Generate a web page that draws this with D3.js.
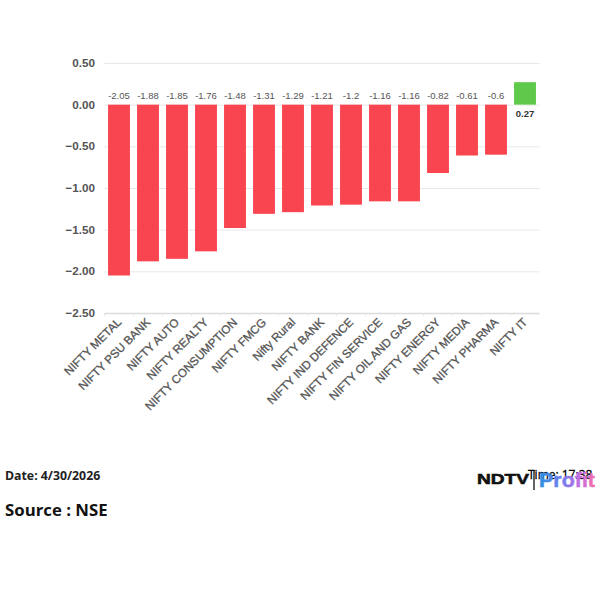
<!DOCTYPE html>
<html>
<head>
<meta charset="utf-8">
<script src="https://cdn.jsdelivr.net/npm/d3@7"></script>
<style>
html, body { margin: 0; padding: 0; background: #fff; }
svg { display: block; }
</style>
</head>
<body>
<svg id="chart"></svg>
<script>
var categories = ["NIFTY METAL", "NIFTY PSU BANK", "NIFTY AUTO", "NIFTY REALTY", "NIFTY CONSUMPTION",
    "NIFTY FMCG", "Nifty Rural", "NIFTY BANK", "NIFTY IND DEFENCE", "NIFTY FIN SERVICE",
    "NIFTY OIL AND GAS", "NIFTY ENERGY", "NIFTY MEDIA", "NIFTY PHARMA", "NIFTY IT"];
var values = [-2.05, -1.88, -1.85, -1.76, -1.48, -1.31, -1.29, -1.21, -1.2, -1.16, -1.16, -0.82, -0.61, -0.6, 0.27];
var yTicks = [0.5, 0, -0.5, -1, -1.5, -2, -2.5];

var width = 600, height = 600;
var plotLeft = 104.5, plotRight = 539.5, plotTop = 63, plotBottom = 313;

var svg = d3.select("#chart").attr("width", width).attr("height", height);

var x = d3.scaleBand().domain(categories).range([plotLeft, plotRight]).paddingInner(0.245).paddingOuter(0.1225);
var y = d3.scaleLinear().domain([0.5, -2.5]).range([plotTop, plotBottom]);

// gridlines
svg.append("g").selectAll("line").data(yTicks).enter().append("line")
    .attr("x1", plotLeft).attr("x2", plotRight)
    .attr("y1", function(d) { return y(d) + 0.5; })
    .attr("y2", function(d) { return y(d) + 0.5; })
    .attr("stroke", function(d) { return d === -2.5 ? "#dcdcdc" : "#e8e8e8"; })
    .attr("stroke-width", function(d) { return d === -2.5 ? 1.5 : 1; });

// x axis tick marks
var tickStep = x.step();
svg.append("g").selectAll("line").data(categories).enter().append("line")
    .attr("x1", function(d) { return x(d) + x.bandwidth() / 2 - tickStep / 2; })
    .attr("x2", function(d) { return x(d) + x.bandwidth() / 2 - tickStep / 2; })
    .attr("y1", plotBottom).attr("y2", plotBottom + 3)
    .attr("stroke", "#e6e6e6");

// y labels
svg.append("g").selectAll("text").data(yTicks).enter().append("text")
    .attr("x", 95).attr("y", function(d) { return y(d) + 4; })
    .attr("text-anchor", "end")
    .style("font", "bold 11.7px 'Liberation Sans', Arial, sans-serif")
    .attr("fill", "#555")
    .text(function(d) { return d3.format(".2f")(d); });

// bars
svg.append("g").selectAll("rect").data(values).enter().append("rect")
    .attr("x", function(d, i) { return x(categories[i]); })
    .attr("y", function(d) { return d < 0 ? y(0) : y(d); })
    .attr("width", x.bandwidth())
    .attr("height", function(d) { return Math.abs(y(d) - y(0)); })
    .attr("fill", function(d) { return d < 0 ? "#f9454f" : "#5ec94a"; });

// value labels
svg.append("g").selectAll("text").data(values).enter().append("text")
    .attr("x", function(d, i) { return x(categories[i]) + x.bandwidth() / 2; })
    .attr("y", function(d) { return d < 0 ? y(0) - 6 : y(0) + 12; })
    .attr("text-anchor", "middle")
    .style("font", function(d) { return (d < 0 ? "normal" : "bold") + " 9.5px 'Liberation Sans', Arial, sans-serif"; })
    .attr("fill", function(d) { return d < 0 ? "#555" : "#333"; })
    .text(function(d) { return d; });

// category labels
svg.append("g").selectAll("text").data(categories).enter().append("text")
    .attr("transform", function(d) {
        return "translate(" + (x(d) + x.bandwidth() / 2 + 3) + "," + (plotBottom + 10) + ") rotate(-45)";
    })
    .attr("text-anchor", "end")
    .style("font", "11.7px 'Liberation Sans', Arial, sans-serif")
    .attr("fill", "#555").attr("stroke", "#555").attr("stroke-width", 0.3)
    .text(function(d) { return d; });

// footer
svg.append("text").attr("x", 5).attr("y", 480)
    .style("font", "bold 12.3px 'Open Sans', sans-serif").attr("fill", "#222").text("Date: 4/30/2026");
svg.append("text").attr("x", 5).attr("y", 516)
    .style("font", "bold 16.8px 'Open Sans', sans-serif").attr("fill", "#111").text("Source : NSE");
svg.append("text").attr("x", 528).attr("y", 479)
    .style("font", "12px 'Open Sans', sans-serif").attr("fill", "#000").attr("stroke", "#000").attr("stroke-width", 0.3).text("Time: 17:38");

// logo
svg.append("text").attr("x", 477).attr("y", 484)
    .style("font", "bold 15.5px 'Liberation Sans', Arial, sans-serif").attr("textLength", 52).attr("lengthAdjust", "spacingAndGlyphs")
    .attr("fill", "#111").attr("stroke", "#111").attr("stroke-width", 0.6).text("NDTV");
svg.append("line").attr("x1", 534).attr("x2", 534).attr("y1", 470).attr("y2", 490).attr("stroke", "#111").attr("stroke-width", 1.3);

var logoGrad = svg.append("defs").append("linearGradient").attr("id", "logoGrad");
logoGrad.selectAll("stop").data([["0%", "#2f8fe0"], ["45%", "#7a7cf0"], ["75%", "#c86ee0"], ["100%", "#f56fa8"]]).enter().append("stop")
    .attr("offset", function(d) { return d[0]; })
    .attr("stop-color", function(d) { return d[1]; });
svg.append("text").attr("x", 539).attr("y", 487)
    .style("font", "bold 21px 'Liberation Sans', Arial, sans-serif").attr("textLength", 56).attr("lengthAdjust", "spacingAndGlyphs")
    .attr("fill", "url(#logoGrad)").attr("stroke", "url(#logoGrad)").attr("stroke-width", 0.5).text("Profit");
</script>
</body>
</html>
